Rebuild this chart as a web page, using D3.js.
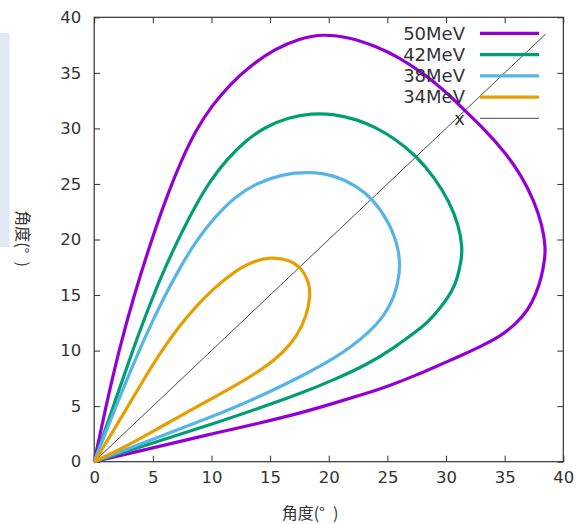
<!DOCTYPE html>
<html>
<head>
<meta charset="utf-8">
<script src="https://cdn.jsdelivr.net/npm/d3@7"></script>
<style>
  body { margin: 0; background: #fff; }
  text { font-family: "DejaVu Sans", sans-serif; fill: #333; }
</style>
</head>
<body>
<div class="chart"></div>
<script>
//// data: [x, y] in degrees, loop from origin and back

const seriesNames = ['50MeV', '42MeV', '38MeV', '34MeV'];
const seriesColors = ['#9400d3', '#009e73', '#56b4e9', '#e69f00'];

const mev50 = [[0,0],[1.0,5.0],[2.1,10.0],[3.4,15.0],[4.9,20.0],[6.3,24.2],[7.5,27.3],[8.7,29.9],[10.0,32.0],
    [11.6,34.0],[13.4,35.7],[15.4,37.15],[17.5,38.1],[19.5,38.5],[21.8,38.2],[24.0,37.4],[26.0,36.4],[28.0,35.0],
    [30.0,33.3],[31.6,31.6],[33.3,29.9],[35.0,27.9],[36.4,25.8],[37.5,23.5],[38.2,21.3],[38.5,19.3],[38.4,18.1],
    [38.15,16.65],[37.7,15.15],[37.0,13.65],[36.0,12.45],[34.6,11.25],[32.9,10.35],[31.2,9.5],[29.4,8.7],
    [27.5,7.8],[25.2,6.85],[23.2,6.15],[20.4,5.25],[17.5,4.35],[14.0,3.45],[10.0,2.5],[6.0,1.5],[3.0,0.75],[0,0]];

const mev42 = [[0,0],[1.7,5.2],[3.4,10.4],[4.9,14.6],[6.1,17.6],[7.3,20.3],[8.6,23.0],[9.9,25.3],[11.3,27.2],
    [12.9,28.9],[14.6,30.15],[16.6,31.0],[18.5,31.35],[20.5,31.3],[22.4,30.8],[24.0,30.1],[25.6,29.1],[27.5,27.5],
    [29.0,25.6],[30.3,23.4],[31.1,21.2],[31.4,19.3],[31.3,18.1],[31.0,16.65],[30.6,15.45],[29.5,13.8],[28.4,12.5],
    [27.3,11.6],[25.5,10.2],[23.2,8.7],[20.4,7.35],[17.5,6.1],[14.0,4.8],[10.0,3.35],[5.0,1.7],[0,0]];

const mev38 = [[0,0],[1.5,4.05],[3.0,7.95],[4.5,11.6],[5.9,14.7],[7.3,17.45],[8.7,19.9],[10.2,21.9],[11.9,23.8],
    [13.9,25.1],[16.1,25.9],[18.3,26.1],[20.5,25.8],[22.4,24.8],[23.7,23.7],[25.2,21.5],[26.0,19.1],[26.1,17.0],
    [25.6,14.8],[24.7,13.1],[23.5,11.7],[21.9,10.3],[19.8,8.9],[17.5,7.6],[15.0,6.3],[11.6,4.7],[7.4,3.0],
    [3.5,1.4],[0,0]];

const mev34 = [[0,0],[1.3,2.2],[2.6,4.5],[4.0,7.0],[5.5,9.6],[7.1,12.0],[8.6,13.9],[10.2,15.6],[11.8,17.0],
    [13.4,18.0],[15.1,18.45],[16.7,18.15],[17.6,17.5],[18.3,16.3],[18.45,14.9],[18.1,13.1],[17.3,11.3],
    [16.1,9.8],[14.4,8.35],[12.2,6.95],[9.9,5.6],[7.3,4.1],[4.8,2.6],[2.2,1.1],[0,0]];

const diagonal = [[0,0],[38.5,38.5]];

const xTicks = [0,5,10,15,20,25,30,35,40];
const yTicks = [0,5,10,15,20,25,30,35,40];
const axisLabel = '角度(°\u2002)';

//// drawing

const W = 577, H = 524;
const plotLeft = 94.2, plotRight = 563.3, plotTop = 17.3, plotBottom = 461.7;

const svg = d3.select('.chart').append('svg')
    .attr('width', W)
    .attr('height', H);

// pale panel peeking in at the left edge
svg.append('rect')
    .attr('x', 0).attr('y', 33)
    .attr('width', 9.5).attr('height', 214)
    .style('fill', '#dfe9f5');

const x = d3.scaleLinear().domain([0, 40]).range([plotLeft, plotRight]);
const y = d3.scaleLinear().domain([0, 40]).range([plotBottom, plotTop]);

// basis keeps the hand-read points from showing corners
const line = d3.line()
    .x(d => x(d[0]))
    .y(d => y(d[1]))
    .curve(d3.curveBasis);

// ticks point inward on all four sides
const tickLen = 6;
const axes = svg.append('g');
axes.append('g')
    .attr('transform', `translate(0,${plotBottom})`)
    .call(d3.axisBottom(x).tickValues(xTicks).tickSize(-tickLen).tickPadding(10));
axes.append('g')
    .attr('transform', `translate(${plotLeft},0)`)
    .call(d3.axisLeft(y).tickValues(yTicks).tickSize(-tickLen).tickPadding(13));
axes.append('g')
    .attr('transform', `translate(0,${plotTop})`)
    .call(d3.axisTop(x).tickValues(xTicks).tickSize(-tickLen).tickFormat(''));
axes.append('g')
    .attr('transform', `translate(${plotRight},0)`)
    .call(d3.axisRight(y).tickValues(yTicks).tickSize(-tickLen).tickFormat(''));

axes.selectAll('.domain').remove();
axes.selectAll('.tick line').style('stroke', '#333').style('stroke-width', 1);
axes.selectAll('.tick text')
    .style('font-size', '16.5px')
    .style('font-family', '"DejaVu Sans", sans-serif')
    .style('fill', '#333');

svg.append('rect')
    .attr('x', plotLeft).attr('y', plotTop)
    .attr('width', plotRight - plotLeft).attr('height', plotBottom - plotTop)
    .style('fill', 'none')
    .style('stroke', '#333')
    .style('stroke-width', 1.2);

// the y = x reference line
svg.append('path')
    .datum(diagonal)
    .attr('d', d3.line().x(d => x(d[0])).y(d => y(d[1])))
    .style('fill', 'none')
    .style('stroke', '#333')
    .style('stroke-width', 0.9);

const allSeries = [mev50, mev42, mev38, mev34];
svg.selectAll('.loop')
    .data(allSeries)
    .enter().append('path')
    .attr('class', 'loop')
    .attr('d', line)
    .style('fill', 'none')
    .style('stroke', (d, i) => seriesColors[i])
    .style('stroke-width', 3.2)
    .style('stroke-linejoin', 'round');

// legend, gnuplot style: label right aligned, sample line after it
const legendNames = seriesNames.concat(['x']);
const legendColors = seriesColors.concat(['#333']);
const legend = svg.append('g');
const rows = legend.selectAll('.row')
    .data(legendNames)
    .enter().append('g')
    .attr('class', 'row')
    .attr('transform', (d, i) => `translate(0,${33.3 + i * 21.25})`);
rows.append('text')
    .attr('x', 465)
    .attr('dy', '0.35em')
    .attr('text-anchor', 'end')
    .style('font-size', '18px')
    .text(d => d);
rows.append('line')
    .attr('x1', 480).attr('x2', 539)
    .style('stroke', (d, i) => legendColors[i])
    .style('stroke-width', (d, i) => i < 4 ? 3.2 : 0.9);

// axis titles
svg.append('text')
    .attr('x', 310).attr('y', 513)
    .attr('dy', '0.35em')
    .attr('text-anchor', 'middle')
    .style('font-size', '16px')
    .style('font-family', '"Noto Sans CJK SC", sans-serif')
    .text(axisLabel);
svg.append('text')
    .attr('transform', 'translate(23,238.5) rotate(90)')
    .attr('dy', '0.35em')
    .attr('text-anchor', 'middle')
    .style('font-size', '16px')
    .style('font-family', '"Noto Sans CJK SC", sans-serif')
    .text(axisLabel);
</script>
</body>
</html>
